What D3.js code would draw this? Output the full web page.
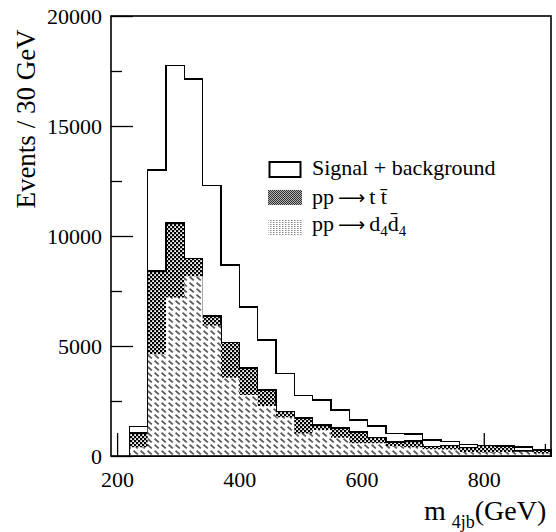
<!DOCTYPE html>
<html>
<head>
<meta charset="utf-8">
<script src="https://cdn.jsdelivr.net/npm/d3@7"></script>
<style>
  html, body { margin: 0; padding: 0; background: #fff; }
  svg { display: block; font-family: "Liberation Serif", "Times New Roman", serif; }
</style>
</head>
<body>
<svg id="chart" width="556" height="532"></svg>
<script>
// Bin lower edges (GeV), 30 GeV wide
const binLow = [220, 250, 280, 310, 340, 370, 400, 430, 460, 490, 520, 550,
                580, 610, 640, 670, 700, 730, 760, 790, 820, 850, 880];
const binWidth = 30;

// pp -> d4 d4bar (bottom of the stack)
const d4Values = [394, 4620, 7210, 8170, 5930, 3560, 2770, 2270, 1760, 1020, 1180, 830,
                  577, 577, 440, 400, 310, 300, 180, 160, 180, 190, 110];
// pp -> t tbar (stacked on d4 d4bar)
const ttValues = [640, 3780, 3370, 800, 440, 1600, 1240, 730, 260, 710, 230, 450,
                  520, 260, 190, 290, 130, 175, 205, 310, 245, 50, 150];
// Signal + background
const totalValues = [1330, 13000, 17740, 17140, 12300, 8680, 6770, 5280, 3750, 2760, 2540, 2090,
                     1640, 1360, 1030, 990, 727, 670, 515, 480, 455, 410, 275];

const xMajorTicks = [200, 400, 600, 800];
const xMinorTicks = [300, 500, 700, 900];
const yMajorTicks = [0, 5000, 10000, 15000, 20000];
const yMinorTicks = [2500, 7500, 12500, 17500];

(function draw() {
  const svg = d3.select("#chart");
  const pl = 111, pr = 551, pt = 16, pb = 456;

  const x = d3.scaleLinear().domain([190, 910]).range([pl, pr]);
  const y = d3.scaleLinear().domain([0, 20000]).range([pb, pt]);

  // Fill patterns
  const defs = svg.append("defs");
  const cross = defs.append("pattern").attr("id", "cross")
    .attr("patternUnits", "userSpaceOnUse").attr("width", 4).attr("height", 4);
  cross.append("rect").attr("width", 4).attr("height", 4).attr("fill", "#000");
  cross.append("rect").attr("x", 0.2).attr("y", 0.2).attr("width", 1.8).attr("height", 1.8).attr("fill", "#fff");
  cross.append("rect").attr("x", 2.2).attr("y", 2.2).attr("width", 1.8).attr("height", 1.8).attr("fill", "#fff");

  const hatch = defs.append("pattern").attr("id", "hatch")
    .attr("patternUnits", "userSpaceOnUse").attr("width", 7).attr("height", 6);
  hatch.append("rect").attr("width", 7).attr("height", 6).attr("fill", "#fff");
  hatch.append("line").attr("x1", 0.5).attr("y1", 0.8).attr("x2", 4.8).attr("y2", 4.4)
    .attr("stroke", "#5a5a5a").attr("stroke-width", 1.8);

  const legCross = defs.append("pattern").attr("id", "legCross")
    .attr("patternUnits", "userSpaceOnUse").attr("width", 2).attr("height", 2);
  legCross.append("rect").attr("width", 2).attr("height", 2).attr("fill", "#b0b0b0");
  legCross.append("rect").attr("width", 1).attr("height", 1).attr("fill", "#333");
  legCross.append("rect").attr("x", 1).attr("y", 1).attr("width", 1).attr("height", 1).attr("fill", "#333");

  const legDot = defs.append("pattern").attr("id", "legDot")
    .attr("patternUnits", "userSpaceOnUse").attr("width", 3).attr("height", 2);
  legDot.append("rect").attr("width", 3).attr("height", 2).attr("fill", "#fff");
  legDot.append("rect").attr("width", 1.5).attr("height", 1).attr("fill", "#8a8a8a");

  // Axes (ticks sit under the histograms)
  const gx = svg.append("g").attr("transform", `translate(0,${pb})`);
  gx.call(d3.axisBottom(x).tickValues(xMinorTicks).tickSize(-12).tickFormat(""));
  gx.append("g").call(d3.axisBottom(x).tickValues(xMajorTicks).tickSize(-23).tickPadding(15).tickFormat(d3.format("d")));
  const gy = svg.append("g").attr("transform", `translate(${pl},0)`);
  gy.call(d3.axisLeft(y).tickValues(yMinorTicks).tickSize(-11).tickFormat(""));
  gy.append("g").call(d3.axisLeft(y).tickValues(yMajorTicks).tickSize(-22).tickPadding(9).tickFormat(d3.format("d")));
  svg.selectAll(".domain").remove();
  svg.selectAll(".tick line").attr("stroke", "#000").attr("stroke-width", 1.3);
  svg.selectAll(".tick text").attr("font-family", "Liberation Serif").attr("font-size", 22).attr("fill", "#000");

  // Step-shaped series
  function steps(vals) {
    const pts = binLow.map((lo, i) => ({ x: lo, v: vals[i] }));
    pts.push({ x: binLow[binLow.length - 1] + binWidth, v: vals[vals.length - 1] });
    return pts;
  }
  const stackTop = d4Values.map((v, i) => v + ttValues[i]);

  const area = d3.area().curve(d3.curveStepAfter)
    .x(d => x(d.x)).y0(y(0)).y1(d => y(d.v));

  svg.append("path").datum(steps(stackTop))
    .attr("d", area).attr("fill", "url(#cross)")
    .attr("stroke", "#000").attr("stroke-width", 1.6).attr("shape-rendering", "crispEdges");
  svg.append("path").datum(steps(d4Values))
    .attr("d", area).attr("fill", "url(#hatch)").attr("stroke", "none");

  const totalPts = [{ x: binLow[0], v: 0 }].concat(steps(totalValues));
  const line = d3.line().curve(d3.curveStepAfter).x(d => x(d.x)).y(d => y(d.v));
  svg.append("path").datum(totalPts)
    .attr("d", line).attr("fill", "none")
    .attr("stroke", "#000").attr("stroke-width", 1.5).attr("shape-rendering", "crispEdges");

  // Frame
  svg.append("rect").attr("x", pl).attr("y", pt)
    .attr("width", pr - pl).attr("height", pb - pt)
    .attr("fill", "none").attr("stroke", "#000").attr("stroke-width", 1.6);

  // Axis titles
  svg.append("text")
    .attr("transform", "translate(35,119) rotate(-90)")
    .attr("text-anchor", "middle").attr("font-size", 27).attr("fill", "#000")
    .text("Events / 30 GeV");

  const xt = svg.append("text").attr("x", 424).attr("y", 520).attr("font-size", 28).attr("fill", "#000");
  xt.append("tspan").text("m");
  xt.append("tspan").attr("dx", 6).attr("dy", 8).attr("font-size", 18).text("4jb");
  xt.append("tspan").attr("dy", -8).text("(GeV)");

  // Legend
  const leg = svg.append("g");
  leg.append("rect").attr("x", 269.5).attr("y", 162).attr("width", 31).attr("height", 15)
    .attr("fill", "#fff").attr("stroke", "#000").attr("stroke-width", 2);
  leg.append("rect").attr("x", 268).attr("y", 190).attr("width", 34).attr("height", 15).attr("fill", "url(#legCross)");
  leg.append("rect").attr("x", 268).attr("y", 220).attr("width", 34).attr("height", 15).attr("fill", "url(#legDot)");

  leg.append("text").attr("x", 312).attr("y", 175).attr("font-size", 22).attr("fill", "#000")
    .text("Signal + background");

  const arrowFont = "DejaVu Sans";
  const l2 = leg.append("text").attr("x", 312).attr("y", 204).attr("font-size", 22).attr("fill", "#000");
  l2.append("tspan").text("pp");
  l2.append("tspan").attr("dx", 4).attr("font-family", arrowFont).attr("font-size", 19).text("\u27F6");
  l2.append("tspan").attr("dx", 4).text("t t\u0304");

  const l3 = leg.append("text").attr("x", 312).attr("y", 231).attr("font-size", 22).attr("fill", "#000");
  l3.append("tspan").text("pp");
  l3.append("tspan").attr("dx", 4).attr("font-family", arrowFont).attr("font-size", 19).text("\u27F6");
  l3.append("tspan").attr("dx", 4).text("d");
  l3.append("tspan").attr("dy", 5).attr("font-size", 15).text("4");
  l3.append("tspan").attr("dy", -5).text("d\u0304");
  l3.append("tspan").attr("dy", 5).attr("font-size", 15).text("4");
})();
</script>
</body>
</html>
